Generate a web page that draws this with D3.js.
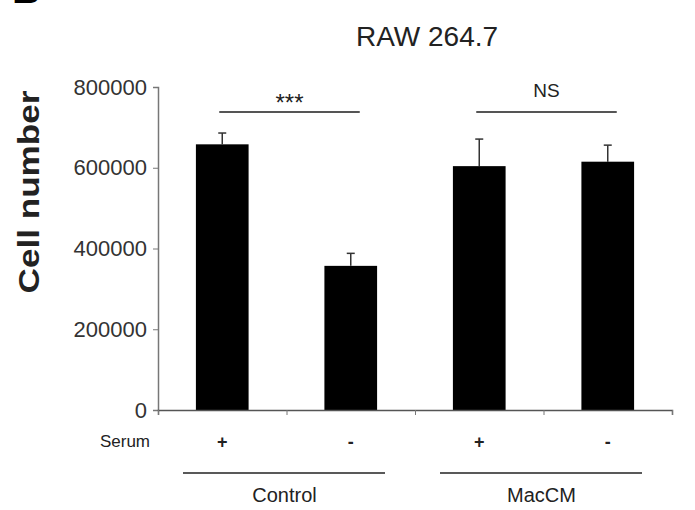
<!DOCTYPE html>
<html>
<head>
<meta charset="utf-8">
<script src="https://cdn.jsdelivr.net/npm/d3@7"></script>
<style>
  body { margin: 0; background: #fff; }
  svg { display: block; font-family: "Liberation Sans", Arial, sans-serif; }
</style>
</head>
<body>
<div class="chart"></div>
<script>
// data
const groups = ["Control", "MacCM"];
const serum = ["+", "-", "+", "-"];
const conditions = ["Control +", "Control -", "MacCM +", "MacCM -"];
const means = [658000, 357000, 604000, 615000];
const errors = [28000, 31000, 67000, 41000];
const yTicks = [0, 200000, 400000, 600000, 800000];
const sigLabels = ["***", "NS"];

const width = 695, height = 510;
const margin = {top: 87, right: 23, bottom: 100, left: 158};

const svg = d3.select(".chart")
    .append("svg")
    .attr("width", width)
    .attr("height", height)
    .attr("viewBox", [0, 0, width, height]);

const yScale = d3.scaleLinear()
    .domain([0, 800000])
    .range([height - margin.bottom, margin.top]);

const xScale = d3.scaleBand()
    .domain(conditions)
    .range([margin.left, width - margin.right])
    .paddingInner(0.59)
    .paddingOuter(0.295);

// axis ticks sit on the category boundaries
const xEdges = d3.scaleLinear()
    .domain([0, conditions.length])
    .range([margin.left, width - margin.right]);

const groupScale = d3.scaleBand()
    .domain(groups)
    .range([margin.left, width - margin.right]);

const mid = d => xScale(d) + xScale.bandwidth() / 2;

// corner panel letter (cut off in the source)
svg.append("text")
    .attr("x", 12)
    .attr("y", 3)
    .attr("font-size", 40)
    .attr("font-weight", "bold")
    .text("B");

svg.append("text")
    .attr("x", 427)
    .attr("y", 46)
    .attr("text-anchor", "middle")
    .attr("font-size", 28)
    .attr("fill", "#222")
    .text("RAW 264.7");

yAxis = g => g
    .attr("transform", `translate(${margin.left},0)`)
    .call(d3.axisLeft(yScale).tickValues(yTicks).tickFormat(d3.format("d")).tickSizeOuter(0).tickSize(5).tickPadding(6))
    .call(g => g.select(".domain").attr("stroke", "#777").attr("stroke-width", 1.5))
    .call(g => g.selectAll(".tick line").attr("stroke", "#777"))
    .call(g => g.selectAll(".tick text")
        .attr("font-size", 22)
        .attr("fill", "#333"));

xAxis = g => g
    .attr("transform", `translate(0,${yScale(0)})`)
    .call(d3.axisBottom(xEdges).ticks(conditions.length).tickFormat("").tickSizeOuter(0).tickSize(5))
    .call(g => g.select(".domain").attr("stroke", "#555").attr("stroke-width", 1.5))
    .call(g => g.selectAll(".tick line").attr("stroke", "#777"));

svg.append("g").call(yAxis);

svg.append("text")
    .attr("transform", `translate(39,192) rotate(-90)`)
    .attr("text-anchor", "middle")
    .attr("font-size", 30)
    .attr("font-weight", "bold")
    .attr("fill", "#222")
    .attr("textLength", 203)
    .attr("lengthAdjust", "spacingAndGlyphs")
    .text("Cell number");

// error bars (upper only)
const err = svg.append("g")
    .attr("stroke", "#333")
    .attr("stroke-width", 1.5)
  .selectAll("g")
  .data(conditions)
  .join("g");
err.append("line")
    .attr("x1", mid)
    .attr("x2", mid)
    .attr("y1", (d, i) => yScale(means[i]))
    .attr("y2", (d, i) => yScale(means[i] + errors[i]));
err.append("line")
    .attr("x1", d => mid(d) - 4)
    .attr("x2", d => mid(d) + 4)
    .attr("y1", (d, i) => yScale(means[i] + errors[i]))
    .attr("y2", (d, i) => yScale(means[i] + errors[i]));

svg.append("g")
    .attr("fill", "black")
  .selectAll("rect")
  .data(conditions)
  .join("rect")
    .attr("x", d => xScale(d))
    .attr("y", (d, i) => yScale(means[i]))
    .attr("width", xScale.bandwidth())
    .attr("height", (d, i) => yScale(0) - yScale(means[i]));

svg.append("g").call(xAxis);

// significance brackets over each pair
const sigY = 112;
const sig = svg.append("g")
  .selectAll("g")
  .data(sigLabels)
  .join("g");
sig.append("line")
    .attr("x1", (d, i) => mid(conditions[i * 2]) - 3)
    .attr("x2", (d, i) => mid(conditions[i * 2 + 1]) + 9)
    .attr("y1", sigY)
    .attr("y2", sigY)
    .attr("stroke", "#555")
    .attr("stroke-width", 2);
sig.append("text")
    .attr("x", (d, i) => (mid(conditions[i * 2]) + mid(conditions[i * 2 + 1])) / 2 + 3)
    .attr("y", (d, i) => i === 0 ? 111 : 97)
    .attr("text-anchor", "middle")
    .attr("font-size", (d, i) => i === 0 ? 24 : 19)
    .attr("fill", "#222")
    .text(d => d);

// serum row
svg.append("text")
    .attr("x", 150)
    .attr("y", 447)
    .attr("text-anchor", "end")
    .attr("font-size", 17)
    .attr("fill", "#222")
    .text("Serum");

svg.append("g")
  .selectAll("text")
  .data(conditions)
  .join("text")
    .attr("x", mid)
    .attr("y", 448)
    .attr("text-anchor", "middle")
    .attr("font-size", 18)
    .attr("font-weight", "bold")
    .attr("fill", "#222")
    .text((d, i) => serum[i]);

// group underlines and names
const grp = svg.append("g")
  .selectAll("g")
  .data(groups)
  .join("g");
grp.append("line")
    .attr("x1", d => groupScale(d) + 25)
    .attr("x2", d => groupScale(d) + groupScale.bandwidth() - 30)
    .attr("y1", 473)
    .attr("y2", 473)
    .attr("stroke", "#222")
    .attr("stroke-width", 1.5);
grp.append("text")
    .attr("x", d => groupScale(d) + groupScale.bandwidth() / 2 - 2)
    .attr("y", 502)
    .attr("text-anchor", "middle")
    .attr("font-size", 20)
    .attr("fill", "#222")
    .text(d => d);
</script>
</body>
</html>
